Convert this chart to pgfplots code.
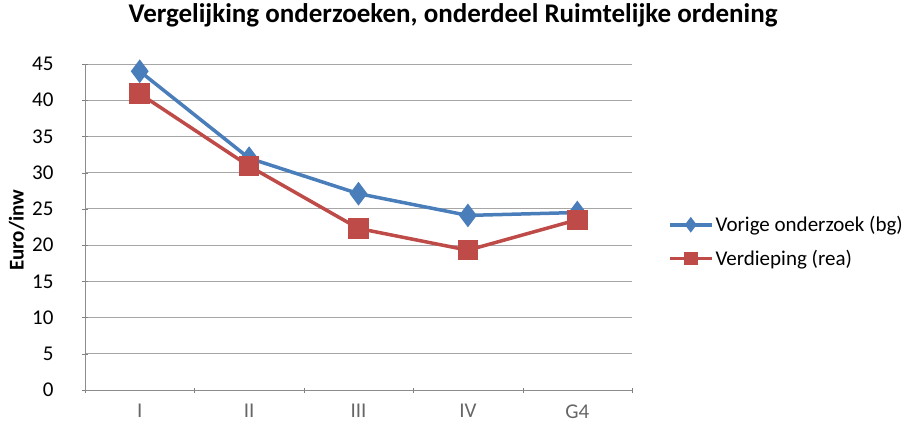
\documentclass[border=0pt]{standalone}
\usepackage{fontspec}
\setmainfont{Carlito}
\usepackage{pgfplots}
\pgfplotsset{compat=1.18}
\definecolor{xlblue}{HTML}{4A7EBB}
\definecolor{xlred}{HTML}{BE4B48}
\begin{document}
\begin{tikzpicture}[x=1bp,y=1bp]
\begin{axis}[
  at={(0,0)}, anchor=south west,
  scale only axis, width=547bp, height=326bp,
  xmin=-0.5, xmax=4.5, ymin=0, ymax=45,
  ytick={0,5,...,45},
  xtick={0,...,4}, xticklabels={I,II,III,IV,G4},
  minor xtick={-0.5,0.5,...,4.5},
  major x tick style={draw=none},
  minor x tick style={black!50},
  y tick style={black!50},
  tick align=outside, major tick length=6bp, minor tick length=5bp,
  ymajorgrids, grid style={black!35, line width=0.9bp},
  axis x line=bottom, axis y line=left,
  axis line style={-, black!45, line width=0.9bp},
  /pgf/number format/assume math mode=true,
  tick label style={font=\fontsize{21bp}{23bp}\selectfont},
  yticklabel style={xshift=-25bp},
  xticklabel style={text=black!60, yshift=-8bp},
  title={Vergelijking onderzoeken, onderdeel Ruimtelijke ordening},
  title style={at={(0.673,1.13)}, anchor=center, font=\bfseries\fontsize{27bp}{29bp}\selectfont},
  ylabel={Euro/inw},
  ylabel style={at={(axis description cs:-0.125,0.49)}, anchor=center, font=\bfseries\fontsize{21bp}{23bp}\selectfont},
  legend style={draw=none, fill=none, at={(1.06,0.455)}, anchor=west,
    font=\fontsize{21bp}{23bp}\selectfont, row sep=13bp},
  legend cell align=left,
  legend image code/.code={\draw[mark repeat=2,mark phase=2,#1,mark size=5bp] plot coordinates {(0bp,0bp) (21bp,0bp) (42bp,0bp)};},
]
\addplot[xlblue, line width=3.5bp, mark=diamond*, mark size=9bp, mark options={solid}]
  coordinates {(0,44) (1,32) (2,27.1) (3,24.1) (4,24.5)};
\addlegendentry{Vorige onderzoek (bg)}
\addplot[xlred, line width=3.5bp, mark=square*, mark size=8.5bp, mark options={solid}]
  coordinates {(0,40.9) (1,30.9) (2,22.3) (3,19.3) (4,23.5)};
\addlegendentry{Verdieping (rea)}
\end{axis}
\pgfresetboundingbox
\path (-85,-38) rectangle (822,390);
\end{tikzpicture}
\end{document}
